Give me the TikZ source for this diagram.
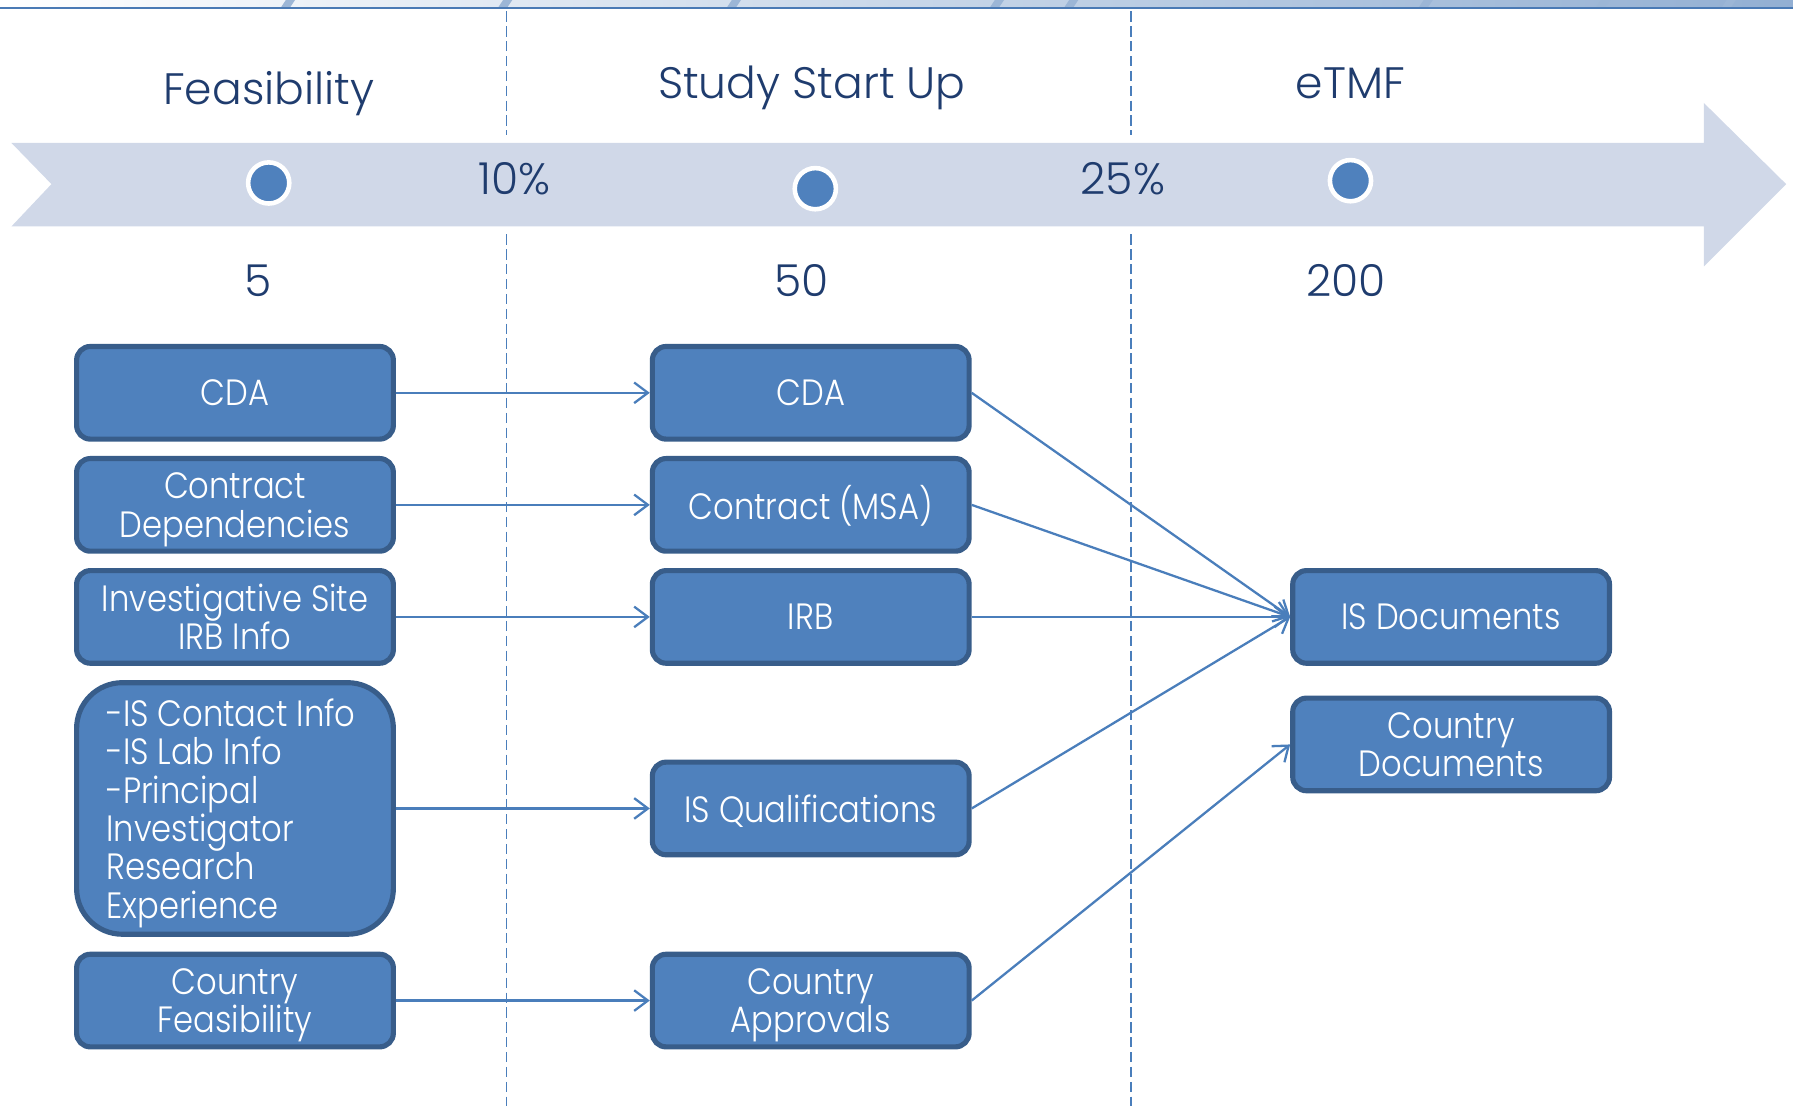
\documentclass[tikz,border=0pt]{standalone}
\usepackage{fontspec}
\IfFontExistsTF{Poppins Light}
  {\setmainfont{Poppins Light}[FakeStretch=0.88]\newfontfamily\lblfont{Poppins Light}}
  {\setmainfont{Poppins}[FakeStretch=0.87]\newfontfamily\lblfont{Poppins}}
\usetikzlibrary{arrows.meta}
\definecolor{boxfill}{HTML}{4F81BD}
\definecolor{boxline}{HTML}{385D8A}
\definecolor{linkcol}{HTML}{4A7EBB}
\definecolor{bandcol}{HTML}{D0D8E8}
\definecolor{navy}{HTML}{1F3C6E}
\definecolor{dashcol}{HTML}{4A7EBB}
\definecolor{topline}{HTML}{4A7AB5}
\begin{document}
\begin{tikzpicture}[x=1pt,y=-1pt,
  box/.style={draw=boxline, fill=boxfill, line width=4.5pt, rounded corners=12pt,
    minimum width=277pt, minimum height=81pt, text=white, align=center,
    font=\fontsize{32}{33.6}\selectfont, inner sep=0pt, text depth=0pt},
  link/.style={draw=linkcol, line width=2pt, -{Straight Barb[length=12pt,width=18pt]}},
  lbl/.style={text=navy, font=\lblfont\fontsize{38.5}{40}\selectfont, inner sep=0pt, anchor=base},
  divider/.style={draw=dashcol, line width=1.6pt, dash pattern=on 9pt off 4pt},
  dot/.style={circle, fill=boxfill, draw=white, line width=4pt, minimum size=36pt, inner sep=0pt}
]
\useasboundingbox (0,0) rectangle (1568,967);
% top banner
\shade[left color=white, right color=topline!60] (0,0) rectangle (1568,6);
\foreach \xa in {250,440,640,870,935,1245,1400,1510}
  \fill[topline!55] (\xa,0) -- (\xa+8,0) -- (\xa+4,6) -- (\xa-4,6) -- cycle;
\draw[topline, line width=2.5pt] (0,7) -- (1568,7);
% dividers
\coordinate (d1a) at (443,10); \coordinate (d1b) at (443,118);
\coordinate (d1c) at (443,205); \coordinate (d1d) at (443,967);
\coordinate (d2a) at (989,10); \coordinate (d2b) at (989,118);
\coordinate (d2c) at (989,205); \coordinate (d2d) at (989,967);
\draw[divider] (d1a) -- (d1b); \draw[divider] (d1c) -- (d1d);
\draw[divider] (d2a) -- (d2b); \draw[divider] (d2c) -- (d2d);
% timeline band
\fill[bandcol] (10,125) -- (1490,125) -- (1490,90) -- (1562,161) -- (1490,233)
  -- (1490,198) -- (10,198) -- (45,161) -- cycle;
\node[dot] (c1) at (235,160) {};
\node[dot] (c2) at (713,165) {};
\node[dot] (c3) at (1181,158) {};
% labels
\node[lbl] (tfeas) at (235,91) {Feasibility};
\node[lbl] (tssu) at (710,86) {Study Start Up};
\node[lbl] (tetmf) at (1181,86) {eTMF};
\node[lbl] (p10) at (450,170) {10\%};
\node[lbl] (p25) at (982,170) {25\%};
\node[lbl] (n5) at (226,259) {5};
\node[lbl] (n50) at (701,259) {50};
\node[lbl] (n200) at (1177,259) {200};
% left column
\node[box] (lcda) at (205.5,343.5) {CDA};
\node[box] (lcon) at (205.5,441.5) {Contract\\Dependencies};
\node[box] (lirb) at (205.5,539.5) {Investigative Site\\IRB Info};
\node[box, minimum height=220pt, rounded corners=40pt, align=left] (linfo) at (205.5,707)
  {-IS Contact Info\hspace*{7pt}\\-IS Lab Info\\-Principal\\Investigator\\Research\\Experience};
\node[box] (lcty) at (205.5,875) {Country\\Feasibility};
% middle column
\node[box] (mcda) at (709,343.5) {CDA};
\node[box, text depth=4pt] (mcon) at (709,441.5) {Contract (MSA)};
\node[box] (mirb) at (709,539.5) {IRB};
\node[box] (mqual) at (709,707) {IS Qualifications};
\node[box] (mcty) at (709,875) {Country\\Approvals};
% right column
\node[box] (risd) at (1269,539.5) {IS Documents};
\node[box] (rcd) at (1269,651) {Country\\Documents};
% connectors
\draw[link] (lcda.east) -- (mcda.west);
\draw[link] (lcon.east) -- (mcon.west);
\draw[link] (lirb.east) -- (mirb.west);
\draw[link] (linfo.east) -- (mqual.west);
\draw[link] (lcty.east) -- (mcty.west);
\draw[link] (mcda.east) -- (risd.west);
\draw[link] (mcon.east) -- (risd.west);
\draw[link] (mirb.east) -- (risd.west);
\draw[link] (mqual.east) -- (risd.west);
\draw[link] (mcty.east) -- (rcd.west);
\end{tikzpicture}
\end{document}
